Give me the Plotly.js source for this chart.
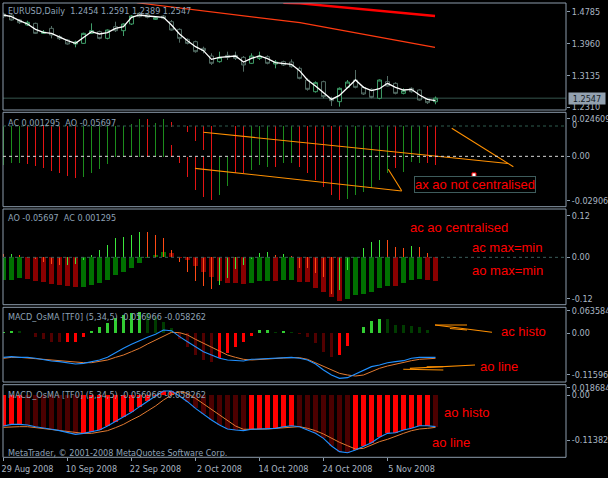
<!DOCTYPE html>
<html><head><meta charset="utf-8">
<script src="https://cdn.plot.ly/plotly-3.0.1.min.js"></script>
<style>html,body{margin:0;padding:0;background:#000;overflow:hidden}#c{width:608px;height:478px}</style>
</head><body><div id="c"></div><script>
// ---------- data ----------
const dateTicks=[0,8,16,24,32,40,48];
const dateLabels=['29 Aug 2008','10 Sep 2008','22 Sep 2008','2 Oct 2008','14 Oct 2008','24 Oct 2008','5 Nov 2008'];

const priceOpen=[1.4730,1.4704,1.4575,1.4445,1.4488,1.4229,1.4358,1.4142,1.4056,1.3952,1.3969,1.4229,1.4272,1.4099,1.4402,1.4298,1.4471,1.4748,1.4713,1.4592,1.4678,1.4531,1.4332,1.4073,1.4013,1.3840,1.3641,1.3494,1.3658,1.3658,1.3606,1.3451,1.3580,1.3623,1.3433,1.3494,1.3485,1.3321,1.3018,1.2715,1.2975,1.2534,1.2456,1.2828,1.3018,1.2828,1.2776,1.2543,1.2975,1.2932,1.2672,1.2802,1.2759,1.2534,1.2454];
const priceHigh=[1.4765,1.4730,1.4601,1.4557,1.4505,1.4315,1.4419,1.4185,1.4082,1.4039,1.4246,1.4488,1.4298,1.4332,1.4531,1.4488,1.4704,1.4782,1.4748,1.4661,1.4704,1.4575,1.4358,1.4099,1.4039,1.3883,1.3710,1.3753,1.3753,1.3753,1.3641,1.3710,1.3753,1.3658,1.3537,1.3520,1.3554,1.3364,1.3061,1.2984,1.3001,1.2586,1.2828,1.3018,1.3278,1.2862,1.2802,1.3035,1.3122,1.2958,1.2802,1.2828,1.2776,1.2551,1.2591];
const priceLow=[1.4626,1.4557,1.4471,1.4419,1.4211,1.4211,1.4099,1.4056,1.3935,1.3866,1.3952,1.4211,1.4073,1.4073,1.4263,1.4160,1.4445,1.4644,1.4618,1.4575,1.4592,1.4298,1.3987,1.3943,1.3727,1.3710,1.3408,1.3468,1.3537,1.3537,1.3234,1.3433,1.3537,1.3425,1.3321,1.3381,1.3338,1.3035,1.2741,1.2690,1.2543,1.2344,1.2327,1.2802,1.2802,1.2629,1.2543,1.2517,1.2845,1.2646,1.2646,1.2690,1.2482,1.2396,1.2389];
const priceClose=[1.4661,1.4575,1.4505,1.4514,1.4229,1.4263,1.4185,1.4090,1.3952,1.4004,1.4229,1.4298,1.4099,1.4315,1.4298,1.4471,1.4678,1.4661,1.4644,1.4635,1.4618,1.4315,1.4099,1.3969,1.3753,1.3779,1.3451,1.3606,1.3606,1.3580,1.3408,1.3641,1.3641,1.3451,1.3485,1.3408,1.3364,1.3061,1.2776,1.2949,1.2586,1.2482,1.2802,1.2966,1.2828,1.2655,1.2568,1.3018,1.2862,1.2672,1.2741,1.2715,1.2499,1.2430,1.2547];
const priceMA=[1.4705,1.4662,1.4558,1.4471,1.4333,1.4255,1.4229,1.4125,1.4039,1.3970,1.4125,1.4272,1.4212,1.4246,1.4359,1.4402,1.4644,1.4705,1.4679,1.4662,1.4644,1.4445,1.4212,1.4039,1.3883,1.3779,1.3554,1.3606,1.3624,1.3641,1.3485,1.3580,1.3641,1.3572,1.3468,1.3450,1.3425,1.3260,1.3018,1.2862,1.2689,1.2516,1.2620,1.2828,1.3018,1.2828,1.2741,1.2793,1.2932,1.2828,1.2759,1.2776,1.2629,1.2516,1.2482];
const trendThinX=[16.65,37.06,53.94], trendThinY=[1.5023,1.4505,1.3866];
const trendThickX=[34.98,37.06,53.94], trendThickY=[1.5023,1.5008,1.4678];
const priceTicks=[1.4785,1.3960,1.3135,1.2310];

// AC / AO (not centralised) segments
const acaoX =[0,1,2,3,4,5,6,7,8,9,10,11,12,13,14,15,16,17,18,19,20,21,21,22,23,23,24,24,25,25,26,27,28,29,30,31,32,33,34,35,36,37,38,39,40,41,42,43,44,45,46,47,48,49,50,51,52,53,54];
const acaoHi=[0.0199,0.0199,0.0199,0.0199,0.0199,0.0199,0.0199,0.0199,0.0199,0.0199,0.0199,0.0199,0.0199,0.0199,0.0199,0.0199,0.0212,0.0243,0.0243,0.0217,0.0243,0.0227,0.0074,-0.0002,0.0199,-0.0002,0.0199,-0.0002,0.0199,-0.0002,0.0199,-0.0002,-0.0002,0.0199,0.0199,0.0199,0.0199,0.0199,0.0199,0.0199,0.0199,0.0199,0.0199,0.0199,0.0199,0.0199,0.0199,0.0199,0.0199,0.0199,0.0199,0.0199,0.0199,0.0199,0.0199,0.0199,0.0199,0.0199,0.0199];
const acaoLo=[-0.0057,-0.0046,-0.0042,-0.0050,-0.0061,-0.0079,-0.0094,-0.0107,-0.0127,-0.0140,-0.0133,-0.0107,-0.0085,-0.0052,-0.0002,-0.0002,-0.0002,-0.0002,-0.0002,-0.0002,-0.0002,0.0195,-0.0002,-0.0042,0.0162,-0.0133,0.0103,-0.0221,0.0042,-0.0265,-0.0287,-0.0254,-0.0195,-0.0112,-0.0112,-0.0090,-0.0057,-0.0068,-0.0068,-0.0046,-0.0046,-0.0068,-0.0112,-0.0155,-0.0199,-0.0254,-0.0287,-0.0282,-0.0254,-0.0232,-0.0210,-0.0155,-0.0112,-0.0079,-0.0101,-0.0035,-0.0046,-0.0046,-0.0057];
const acaoUp=[1,1,1,0,0,0,0,0,0,0,1,1,1,1,1,1,1,1,0,1,1,0,0,0,0,0,0,0,0,0,0,1,1,0,0,1,1,1,0,1,1,0,0,0,0,0,0,1,1,1,1,1,1,0,1,1,1,0,0];
const acTrendUpperX=[24.98,37.06,53.94,63.06], acTrendUpperY=[0.0158,0.0092,0.0002,-0.0047];
const acTrendDiagX=[56.03,63.73], acTrendDiagY=[0.0184,-0.0068];
const acTrendLowerX=[23.94,37.06,49.78], acTrendLowerY=[-0.0079,-0.0155,-0.0227];
const acTrendShortX=[48.1,49.78], acTrendShortY=[-0.0085,-0.0226];
const acMarkX=[58.81], acMarkY=[-0.0122];

// AO (wide) and AC (thin), centralised
const aoVals=[-0.0655,-0.0650,-0.0607,-0.0627,-0.0675,-0.0704,-0.0771,-0.0800,-0.0829,-0.0855,-0.0848,-0.0800,-0.0733,-0.0655,-0.0511,-0.0414,-0.0299,-0.0154,-0.0010,0.0067,0.0164,0.0135,-0.0029,-0.0077,-0.0241,-0.0414,-0.0559,-0.0684,-0.0733,-0.0735,-0.0771,-0.0733,-0.0684,-0.0675,-0.0684,-0.0655,-0.0646,-0.0704,-0.0723,-0.0877,-0.0993,-0.1137,-0.1253,-0.1215,-0.1089,-0.1070,-0.0993,-0.0896,-0.0819,-0.0820,-0.0752,-0.0655,-0.0627,-0.0660,-0.0684];
const acVals=[0.0090,0.0095,0.0070,-0.0030,-0.0050,-0.0145,-0.0200,-0.0220,-0.0215,-0.0200,-0.0080,0.0070,0.0210,0.0360,0.0560,0.0580,0.0650,0.0740,0.0730,0.0650,0.0550,0.0210,-0.0125,-0.0410,-0.0680,-0.0830,-0.0920,-0.0800,-0.0590,-0.0340,-0.0220,-0.0060,0.0135,0.0160,0.0070,0.0096,0.0040,-0.0300,-0.0320,-0.0460,-0.0560,-0.1050,-0.0940,-0.0370,0.0020,0.0260,0.0430,0.0500,0.0490,0.0310,0.0280,0.0330,0.0300,0.0120,0.0013];

// MACD_OsMA #1
const osma1=[0.0047,0.0066,0.0056,0.0020,-0.0094,-0.0169,-0.0234,-0.0240,-0.0234,-0.0230,-0.0094,0.0066,0.0187,0.0300,0.0421,0.0515,0.0562,0.0609,0.0562,0.0468,0.0328,0.0140,-0.0169,-0.0375,-0.0609,-0.0749,-0.0796,-0.0702,-0.0562,-0.0375,-0.0234,-0.0075,0.0094,0.0103,0.0047,0.0066,0.0047,-0.0030,-0.0094,-0.0281,-0.0534,-0.0655,-0.0609,-0.0356,0.0019,0.0187,0.0347,0.0412,0.0403,0.0243,0.0225,0.0215,0.0187,0.0094,0.0019];
const macd1Main=[-0.0674,-0.0655,-0.0674,-0.0674,-0.0702,-0.0749,-0.0777,-0.0796,-0.0824,-0.0861,-0.0843,-0.0805,-0.0749,-0.0674,-0.0543,-0.0421,-0.0309,-0.0206,-0.0112,-0.0028,0.0094,0.0075,-0.0094,-0.0234,-0.0375,-0.0515,-0.0609,-0.0702,-0.0749,-0.0768,-0.0777,-0.0730,-0.0721,-0.0712,-0.0712,-0.0684,-0.0674,-0.0702,-0.0749,-0.0861,-0.1030,-0.1170,-0.1264,-0.1245,-0.1142,-0.1049,-0.0936,-0.0890,-0.0824,-0.0796,-0.0768,-0.0702,-0.0674,-0.0674,-0.0674];
const macd1Signal=[-0.0702,-0.0674,-0.0674,-0.0684,-0.0712,-0.0730,-0.0749,-0.0777,-0.0796,-0.0824,-0.0824,-0.0824,-0.0796,-0.0749,-0.0674,-0.0609,-0.0515,-0.0421,-0.0300,-0.0187,-0.0075,0.0028,0.0019,-0.0047,-0.0169,-0.0281,-0.0393,-0.0515,-0.0609,-0.0674,-0.0730,-0.0749,-0.0730,-0.0721,-0.0702,-0.0693,-0.0684,-0.0684,-0.0730,-0.0824,-0.0918,-0.1030,-0.1124,-0.1170,-0.1199,-0.1170,-0.1077,-0.0983,-0.0918,-0.0861,-0.0824,-0.0768,-0.0730,-0.0721,-0.0702];
const histoNoteX=[[53.94,57.94],[53.94,61.06],[55.8,57.94]], histoNoteY=[[0.0234,0.0234],[0.0234,0.0029],[0.0136,0.0094]];
const lineNoteX=[[49.97,54.98],[50.8,58.94],[52.9,54.98]], lineNoteY=[[-0.1010,-0.1030],[-0.0983,-0.0889],[-0.0937,-0.0937]];

// MACD_OsMA #2
const macd2Main=[-0.0784,-0.0742,-0.0742,-0.0759,-0.0801,-0.0843,-0.0868,-0.0902,-0.0944,-0.0995,-0.0970,-0.0927,-0.0885,-0.0784,-0.0675,-0.0548,-0.0438,-0.0295,-0.0152,-0.0025,0.0101,0.0101,-0.0025,-0.0169,-0.0337,-0.0489,-0.0632,-0.0759,-0.0860,-0.0885,-0.0902,-0.0868,-0.0860,-0.0843,-0.0843,-0.0801,-0.0776,-0.0801,-0.0885,-0.0970,-0.1096,-0.1290,-0.1433,-0.1459,-0.1391,-0.1290,-0.1206,-0.1071,-0.0970,-0.0953,-0.0885,-0.0843,-0.0776,-0.0776,-0.0801];
const macd2Signal=[-0.0818,-0.0801,-0.0801,-0.0801,-0.0826,-0.0860,-0.0885,-0.0902,-0.0927,-0.0953,-0.0970,-0.0970,-0.0944,-0.0902,-0.0826,-0.0742,-0.0632,-0.0531,-0.0405,-0.0278,-0.0126,0.0000,0.0084,0.0042,-0.0084,-0.0228,-0.0363,-0.0506,-0.0649,-0.0784,-0.0868,-0.0868,-0.0860,-0.0860,-0.0843,-0.0826,-0.0801,-0.0801,-0.0843,-0.0902,-0.0987,-0.1096,-0.1197,-0.1282,-0.1366,-0.1349,-0.1265,-0.1180,-0.1121,-0.1037,-0.0970,-0.0902,-0.0860,-0.0843,-0.0818];

// ---------- drawing ----------
const F="'DejaVu Sans Condensed','DejaVu Sans',sans-serif";
const FR="'Liberation Sans',Arial,sans-serif";
const W=608,H=478;
const PX=x=>x/W, PY=y=>1-y/H;
const idx=priceClose.map((_,i)=>i);
const upDown=(a,first)=>a.map((v,i)=>i===0?first:(v>a[i-1]));
const P=[[3,110],[112.3,206.7],[209,304.7],[307.3,382],[384.7,457.3]];
const dom=p=>[PY(p[1]),PY(p[0])];
const TXT='#8fa2b6', TICK='#aab6c2', FRAME='#8c9cac', RED='#ff0000', ORG='#ff9000';

const traces=[];
traces.push({type:'candlestick',x:idx,open:priceOpen,high:priceHigh,low:priceLow,close:priceClose,xaxis:'x',yaxis:'y',
  increasing:{line:{color:'#3f9c68',width:1},fillcolor:'#000'},decreasing:{line:{color:'#536c64',width:1},fillcolor:'#000'},
  whiskerwidth:0,hoverinfo:'skip'});
traces.push({type:'scatter',mode:'lines',x:idx,y:priceMA,line:{color:'#ffffff',width:1.3},yaxis:'y'});
traces.push({type:'scatter',mode:'lines',x:trendThinX,y:trendThinY,line:{color:'#ff3a10',width:1.2,shape:'linear'},yaxis:'y'});
traces.push({type:'scatter',mode:'lines',x:trendThickX,y:trendThickY,line:{color:'#ff0000',width:2.4},yaxis:'y'});

// panel 2
traces.push({type:'bar',x:acaoX,base:acaoLo,y:acaoHi.map((h,i)=>h-acaoLo[i]),width:0.14,yaxis:'y2',
  marker:{color:acaoUp.map(u=>u?'#1c8c1c':'#e41414'),line:{width:0}},hoverinfo:'skip'});
[[acTrendUpperX,acTrendUpperY],[acTrendDiagX,acTrendDiagY],[acTrendLowerX,acTrendLowerY],[acTrendShortX,acTrendShortY]].forEach(([xx,yy])=>
  traces.push({type:'scatter',mode:'lines',x:xx,y:yy,line:{color:ORG,width:1.1},yaxis:'y2'}));
traces.push({type:'scatter',mode:'markers',x:acMarkX,y:acMarkY,marker:{symbol:'square',size:4,color:'#ffffff',line:{color:RED,width:1}},yaxis:'y2'});

// panel 3
traces.push({type:'bar',x:idx,y:aoVals,width:0.68,yaxis:'y3',
  marker:{color:upDown(aoVals,true).map(u=>u?'#007000':'#8a0000'),line:{width:0}},hoverinfo:'skip'});
traces.push({type:'bar',x:idx,y:acVals,width:0.16,yaxis:'y3',
  marker:{color:upDown(acVals,false).map(u=>u?'#3ce83c':'#ff4a14'),line:{width:0}},hoverinfo:'skip'});

// panel 4
traces.push({type:'bar',x:idx,y:osma1,width:0.4,yaxis:'y4',
  marker:{color:osma1.map((v,i)=>{const up=i===0||v>osma1[i-1];return v>=0?(up?'#32cd32':'#003c00'):(up?'#ff0000':'#520000');}),line:{width:0}},hoverinfo:'skip'});
traces.push({type:'scatter',mode:'lines',x:idx,y:macd1Signal,line:{color:'#e27a30',width:1},yaxis:'y4'});
traces.push({type:'scatter',mode:'lines',x:idx,y:macd1Main,line:{color:'#2090ff',width:1.1},yaxis:'y4'});
histoNoteX.forEach((xx,k)=>traces.push({type:'scatter',mode:'lines',x:xx,y:histoNoteY[k],line:{color:ORG,width:1.1},yaxis:'y4'}));
lineNoteX.forEach((xx,k)=>traces.push({type:'scatter',mode:'lines',x:xx,y:lineNoteY[k],line:{color:ORG,width:1.1},yaxis:'y4'}));

// panel 5
traces.push({type:'bar',x:idx,y:macd2Main,width:0.56,yaxis:'y5',
  marker:{color:macd2Main.map((v,i)=>(i===0||v>=macd2Main[i-1])?'#ff0000':'#4c0000'),line:{width:0}},hoverinfo:'skip'});
traces.push({type:'scatter',mode:'lines',x:idx,y:macd2Signal,line:{color:'#e27a30',width:1},yaxis:'y5'});
traces.push({type:'scatter',mode:'lines',x:idx,y:macd2Main,line:{color:'#2090ff',width:1.1},yaxis:'y5'});

const yax=(p,range,tv,tt)=>({domain:dom(p),range:range,autorange:false,side:'right',anchor:'x',showgrid:false,zeroline:false,showline:false,
  tickvals:tv,ticktext:tt,ticks:'outside',ticklen:3,tickcolor:FRAME,tickfont:{family:F,size:9,color:TICK},fixedrange:true});

const shapes=[];
P.forEach(p=>shapes.push({type:'rect',xref:'paper',yref:'paper',x0:PX(3),x1:PX(566),y0:PY(p[1]),y1:PY(p[0]),line:{color:FRAME,width:1},layer:'above'}));
shapes.push({type:'line',xref:'paper',yref:'y',x0:PX(3),x1:PX(566),y0:priceClose[priceClose.length-1],y1:priceClose[priceClose.length-1],line:{color:'#36564e',width:1},layer:'below'});
shapes.push({type:'line',xref:'paper',yref:'y2',x0:PX(3),x1:PX(566),y0:0.0199,y1:0.0199,line:{color:'#2f5c4e',width:1,dash:'3px,3px'}});
shapes.push({type:'line',xref:'paper',yref:'y2',x0:PX(3),x1:PX(566),y0:0,y1:0,line:{color:'#d8d8d8',width:1,dash:'3px,3px'}});
shapes.push({type:'line',xref:'paper',yref:'y3',x0:PX(3),x1:PX(566),y0:0,y1:0,line:{color:'#3a5c5a',width:1,dash:'3px,3px'}});

const n=priceClose.length-1;
const lab=(x,y,t)=>({xref:'paper',yref:'paper',x:PX(x),y:PY(y),xanchor:'left',yanchor:'middle',text:t,showarrow:false,font:{family:F,size:9,color:TXT}});
const red=(x,y,t)=>({xref:'paper',yref:'paper',x:PX(x),y:PY(y),xanchor:'center',yanchor:'middle',text:t,showarrow:false,font:{family:FR,size:13,color:RED}});
const macdLabel='MACD_OsMA [TF0] (5,34,5) -0.056966 -0.058262';
const annotations=[
  lab(5.5,11.5,'EURUSD,Daily \u00a0'+[priceOpen[n],priceHigh[n],priceLow[n],priceClose[n]].map(v=>v.toFixed(4)).join(' ')),
  lab(5.5,122.7,'AC 0.001295 \u00a0AO -0.05697'),
  lab(5.5,218.3,'AO -0.05697 \u00a0AC 0.001295'),
  lab(5.5,317.3,macdLabel),
  lab(5.5,394.7,macdLabel),
  lab(5.5,452.7,'MetaTrader, \u00a9 2001-2008 MetaQuotes Software Corp.'),
  {xref:'paper',yref:'paper',x:PX(570),y:PY(125.5),xanchor:'left',yanchor:'middle',text:'0',showarrow:false,font:{family:F,size:9,color:TICK}},
  {xref:'paper',yref:'y',x:PX(568),y:priceClose[n],xanchor:'left',yanchor:'middle',text:priceClose[n].toFixed(4),showarrow:false,
    bgcolor:'#93a1b0',width:36,height:11,borderpad:0,font:{family:F,size:9,color:'#141c26'}},
  red(459,227.7,'ac ao centralised'),
  red(507,247.7,'ac max=min'),
  red(507,270,'ao max=min'),
  Object.assign(red(475.3,184.4,'ax ao not centralised'),{bordercolor:'#3e5c5c',borderwidth:1,borderpad:0,bgcolor:'#000'}),
  red(523.3,331.7,'ac histo'),
  red(499.3,366.7,'ao line'),
  red(467,412.7,'ao histo'),
  red(451.3,442.7,'ao line')
];

const layout={width:W,height:H,margin:{l:0,r:0,t:0,b:0,pad:0},paper_bgcolor:'#000',plot_bgcolor:'#000',showlegend:false,
  barmode:'overlay',bargap:0,hovermode:false,
  xaxis:{domain:[PX(3),PX(566)],range:[-0.0625,70.3125],autorange:false,anchor:'y5',showgrid:false,zeroline:false,showline:false,
    tickvals:dateTicks,ticktext:dateLabels,ticks:'outside',ticklen:3,tickcolor:FRAME,ticklabelshift:24,
    tickfont:{family:F,size:9,color:TICK},rangeslider:{visible:false},fixedrange:true},
  yaxis:yax(P[0],[1.2240,1.5016],priceTicks,priceTicks.map(v=>v.toFixed(4))),
  yaxis2:yax(P[1],[-0.03305,0.02889],[0.024609,0,-0.029068],['0.024609','0.00','-0.029068']),
  yaxis3:yax(P[2],[-0.1370,0.1398],[0.12,0,-0.12],['0.12','0.00','-0.12']),
  yaxis4:yax(P[3],[-0.1367,0.0731],[0.063584,0,-0.115967],['0.063584','0.00','-0.115967']),
  yaxis5:yax(P[4],[-0.1576,0.0261],[0.018684,0,-0.113829],['0.018684','0.00','-0.113829']),
  shapes:shapes,annotations:annotations};
Plotly.newPlot('c',traces,layout,{staticPlot:true,displayModeBar:false});
</script></body></html>
